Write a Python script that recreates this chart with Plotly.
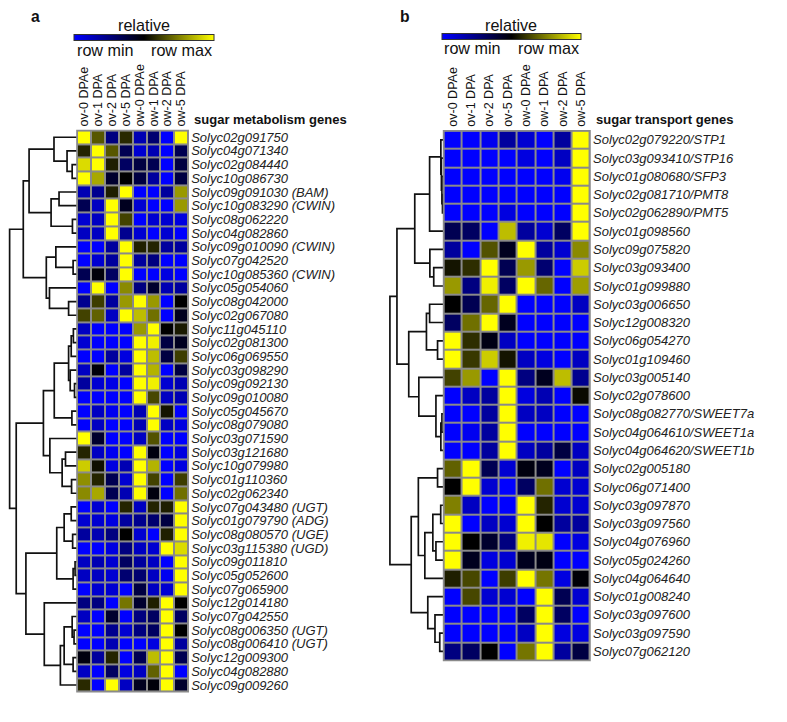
import plotly.graph_objects as go

W, H = 787, 722

columns = ['ov-0 DPAe', 'ov-1 DPA', 'ov-2 DPA', 'ov-5 DPA',
           'ow-0 DPAe', 'ow-1 DPA', 'ow-2 DPA', 'ow-5 DPA']

genes_a = ['Solyc02g091750', 'Solyc04g071340', 'Solyc02g084440', 'Solyc10g086730',
           'Solyc09g091030 (BAM)', 'Solyc10g083290 (CWIN)', 'Solyc08g062220', 'Solyc04g082860',
           'Solyc09g010090 (CWIN)', 'Solyc07g042520', 'Solyc10g085360 (CWIN)', 'Solyc05g054060',
           'Solyc08g042000', 'Solyc02g067080', 'Solyc11g045110', 'Solyc02g081300',
           'Solyc06g069550', 'Solyc03g098290', 'Solyc09g092130', 'Solyc09g010080',
           'Solyc05g045670', 'Solyc08g079080', 'Solyc03g071590', 'Solyc03g121680',
           'Solyc10g079980', 'Solyc01g110360', 'Solyc02g062340', 'Solyc07g043480 (UGT)',
           'Solyc01g079790 (ADG)', 'Solyc08g080570 (UGE)', 'Solyc03g115380 (UGD)', 'Solyc09g011810',
           'Solyc05g052600', 'Solyc07g065900', 'Solyc12g014180', 'Solyc07g042550',
           'Solyc08g006350 (UGT)', 'Solyc08g006410 (UGT)', 'Solyc12g009300', 'Solyc04g082880',
           'Solyc09g009260']

values_a = [
    [1.00, 0.67, 0.25, 0.58, 0.15, 0.28, 0.00, 1.00],
    [0.57, 1.00, 0.67, 0.34, 0.09, 0.15, 0.00, 0.34],
    [0.93, 1.00, 0.56, 0.31, 0.37, 0.34, 0.00, 0.37],
    [1.00, 0.83, 0.41, 0.50, 0.37, 0.19, 0.00, 0.37],
    [0.15, 0.22, 0.56, 1.00, 0.00, 0.00, 0.19, 0.80],
    [0.34, 0.12, 1.00, 0.44, 0.09, 0.00, 0.00, 0.80],
    [0.09, 0.12, 1.00, 0.63, 0.00, 0.09, 0.09, 0.06],
    [0.12, 0.12, 1.00, 0.22, 0.09, 0.00, 0.09, 0.00],
    [0.00, 0.00, 0.19, 1.00, 0.56, 0.57, 0.19, 0.19],
    [0.00, 0.09, 0.19, 1.00, 0.19, 0.25, 0.00, 0.00],
    [0.34, 0.48, 0.31, 1.00, 0.00, 0.00, 0.06, 0.00],
    [0.00, 1.00, 0.00, 0.77, 0.25, 0.41, 0.15, 0.19],
    [0.22, 0.62, 0.19, 0.80, 1.00, 0.80, 0.00, 0.50],
    [0.63, 0.69, 0.12, 1.00, 0.87, 0.72, 0.00, 0.44],
    [0.12, 0.00, 0.00, 0.00, 0.80, 1.00, 0.50, 0.55],
    [0.09, 0.00, 0.00, 0.00, 1.00, 0.97, 0.37, 0.44],
    [0.00, 0.00, 0.19, 0.06, 1.00, 0.87, 0.37, 0.62],
    [0.12, 0.48, 0.00, 0.19, 1.00, 0.85, 0.00, 0.37],
    [0.19, 0.09, 0.05, 0.00, 1.00, 0.97, 0.09, 0.15],
    [0.00, 0.00, 0.00, 0.00, 1.00, 0.64, 0.12, 0.15],
    [0.00, 0.12, 0.03, 0.00, 0.15, 1.00, 0.54, 0.00],
    [0.00, 0.12, 0.00, 0.00, 0.15, 1.00, 0.12, 0.06],
    [1.00, 0.41, 0.00, 0.00, 0.12, 0.66, 0.00, 0.00],
    [0.57, 0.12, 0.03, 0.00, 1.00, 0.47, 0.00, 0.06],
    [0.90, 0.53, 0.06, 0.15, 1.00, 0.85, 0.00, 0.06],
    [0.78, 0.57, 0.34, 0.09, 1.00, 0.63, 0.00, 0.62],
    [0.77, 0.83, 0.34, 0.15, 1.00, 0.47, 0.00, 0.72],
    [0.00, 0.09, 0.00, 0.57, 0.12, 0.57, 0.56, 1.00],
    [0.09, 0.09, 0.06, 0.19, 0.22, 0.28, 0.37, 1.00],
    [0.19, 0.15, 0.25, 0.50, 0.09, 0.00, 0.56, 1.00],
    [0.00, 0.00, 0.06, 0.25, 0.12, 0.09, 1.00, 0.93],
    [0.12, 0.15, 0.09, 0.31, 0.19, 0.12, 0.00, 1.00],
    [0.12, 0.12, 0.09, 0.28, 0.28, 0.12, 0.03, 1.00],
    [0.00, 0.09, 0.09, 0.00, 0.37, 0.12, 0.09, 1.00],
    [0.25, 0.25, 0.00, 0.73, 0.41, 0.56, 1.00, 0.50],
    [0.12, 0.00, 0.41, 0.00, 0.25, 0.31, 1.00, 0.31],
    [0.00, 0.00, 0.22, 0.09, 0.25, 0.31, 1.00, 0.50],
    [0.00, 0.00, 0.15, 0.00, 0.00, 0.06, 1.00, 0.19],
    [0.47, 0.19, 0.57, 0.00, 0.34, 0.87, 1.00, 0.34],
    [0.12, 0.00, 0.31, 0.06, 0.12, 0.69, 1.00, 0.00],
    [0.58, 0.00, 1.00, 0.12, 0.44, 0.48, 1.00, 0.41],
]

genes_b = ['Solyc02g079220/STP1', 'Solyc03g093410/STP16', 'Solyc01g080680/SFP3',
           'Solyc02g081710/PMT8', 'Solyc02g062890/PMT5', 'Solyc01g098560',
           'Solyc09g075820', 'Solyc03g093400', 'Solyc01g099880', 'Solyc03g006650',
           'Solyc12g008320', 'Solyc06g054270', 'Solyc01g109460', 'Solyc03g005140',
           'Solyc02g078600', 'Solyc08g082770/SWEET7a', 'Solyc04g064610/SWEET1a',
           'Solyc04g064620/SWEET1b', 'Solyc02g005180', 'Solyc06g071400',
           'Solyc03g097870', 'Solyc03g097560', 'Solyc04g076960', 'Solyc05g024260',
           'Solyc04g064640', 'Solyc01g008240', 'Solyc03g097600', 'Solyc03g097590',
           'Solyc07g062120']

values_b = [
    [0.00, 0.00, 0.03, 0.19, 0.09, 0.00, 0.19, 1.00],
    [0.00, 0.00, 0.00, 0.00, 0.06, 0.00, 0.12, 1.00],
    [0.00, 0.00, 0.00, 0.00, 0.00, 0.00, 0.03, 1.00],
    [0.00, 0.00, 0.00, 0.00, 0.00, 0.00, 0.00, 1.00],
    [0.00, 0.00, 0.00, 0.06, 0.00, 0.00, 0.00, 1.00],
    [0.34, 0.31, 0.00, 0.87, 0.19, 0.09, 0.31, 1.00],
    [0.19, 0.00, 0.66, 0.44, 1.00, 0.19, 0.09, 0.77],
    [0.54, 0.59, 1.00, 0.34, 0.80, 0.28, 0.00, 0.90],
    [0.80, 0.25, 0.97, 0.31, 1.00, 0.70, 0.00, 0.81],
    [0.50, 0.34, 0.70, 1.00, 0.00, 0.00, 0.00, 0.12],
    [0.31, 0.72, 1.00, 0.44, 0.00, 0.00, 0.00, 0.00],
    [1.00, 0.59, 0.46, 0.12, 0.00, 0.00, 0.00, 0.00],
    [1.00, 0.61, 0.90, 0.54, 0.12, 0.06, 0.00, 0.12],
    [0.63, 0.80, 0.00, 1.00, 0.25, 0.44, 0.87, 0.22],
    [0.00, 0.12, 0.19, 1.00, 0.06, 0.15, 0.00, 0.52],
    [0.00, 0.00, 0.19, 1.00, 0.12, 0.12, 0.00, 0.00],
    [0.00, 0.03, 0.19, 1.00, 0.00, 0.00, 0.00, 0.00],
    [0.00, 0.00, 0.19, 1.00, 0.12, 0.19, 0.37, 0.12],
    [0.69, 1.00, 0.34, 0.09, 0.47, 0.44, 0.00, 0.12],
    [0.50, 1.00, 0.09, 0.00, 0.31, 0.72, 0.09, 0.09],
    [0.75, 0.12, 0.00, 0.00, 1.00, 0.57, 0.09, 0.09],
    [1.00, 0.00, 0.12, 0.09, 1.00, 0.50, 0.19, 0.19],
    [1.00, 0.50, 0.41, 0.25, 0.97, 0.95, 0.00, 0.06],
    [1.00, 0.44, 0.06, 0.09, 0.44, 0.46, 0.00, 0.00],
    [0.56, 0.64, 0.00, 0.62, 1.00, 0.73, 0.06, 0.49],
    [0.00, 0.64, 0.09, 0.09, 0.00, 1.00, 0.34, 0.09],
    [0.00, 0.00, 0.00, 0.00, 0.31, 1.00, 0.31, 0.00],
    [0.00, 0.00, 0.00, 0.00, 0.12, 1.00, 0.06, 0.06],
    [0.25, 0.31, 0.50, 0.00, 0.73, 1.00, 0.19, 0.37],
]

# Row dendrograms: [left, right, merge height]; leaves are row indices
tree_a = [
    [[[0, [1, [2, 3, 0.071], 0.147], 0.341],
      [[4, 5, 0.266], [6, 7, 0.067], 0.384], 0.711],
     [[8, [9, 10, 0.057], 0.313],
      [11, [12, 13, 0.124], 0.408], 0.455], 0.797],
    [[[[[[14, 15, 0.053], 16, 0.085], [17, [18, 19, 0.036], 0.10], 0.124],
        [20, 21, 0.075], 0.337],
       [22, [[23, 24, 0.17], [25, 26, 0.08], 0.22], 0.402], 0.498],
      [[[[27, 28, 0.085], [29, 30, 0.064], 0.19],
        [[31, 32, 0.028], 33, 0.057], 0.30],
       [34, [[[35, [36, 37, 0.043], 0.071], [38, 39, 0.057], 0.19], 40, 0.246], 0.485],
       0.758], 0.902],
    1.0]

tree_b = [
    [[[[0, [1, [2, [3, 4, 0.02], 0.03], 0.04], 0.05], 5, 0.26],
      [6, [7, 8, 0.183], 0.255], 0.537],
     [[[9, 10, 0.26], [11, 12, 0.112], 0.319],
      [13, [14, [[15, 16, 0.03], 17, 0.05], 0.142], 0.461], 0.649], 0.869],
    [[[18, 19, 0.112],
      [[[20, 21, 0.053], [22, 23, 0.142], 0.20], 24, 0.349], 0.47],
     [25, [26, [27, 28, 0.071], 0.16], 0.294], 0.603],
    1.0]

colorscale = [[0.0, 'rgb(0,0,255)'], [0.5, 'rgb(0,0,0)'], [1.0, 'rgb(255,255,0)']]
FONT = 'Liberation Sans, Arial, sans-serif'
GRID = '#8a8a8a'
S = 0.951  # overall scale of the layout


def dendro_xy(tree):
    xs, ys = [], []

    def walk(node):
        if isinstance(node, int):
            return float(node), 0.0
        left, right, h = node
        y1, h1 = walk(left)
        y2, h2 = walk(right)
        xs.extend([h1, h, h, h2, None])
        ys.extend([y1, y1, y2, y2, None])
        return (y1 + y2) / 2.0, h

    walk(tree)
    return xs, ys


def px(xp):
    return S * xp / W


def py(yp):
    return 1 - S * yp / H


# geometry (unscaled layout pixels)
A_X0, A_X1, A_Y0, A_Y1 = 72.5, 189.5, 128.0, 720.0
B_X0, B_X1, B_Y0, B_Y1 = 458.0, 612.0, 128.3, 687.0
A_ROOT, B_ROOT = 1.7, 401.6

fig = go.Figure()

cols_idx = list(range(len(columns)))

cb_common = dict(orientation='h', lenmode='pixels', thicknessmode='pixels',
                 thickness=6 * S, xanchor='center', yanchor='middle', xpad=0, ypad=0,
                 outlinewidth=1, outlinecolor='#333333', showticklabels=False, ticks='')

fig.add_trace(go.Heatmap(
    z=values_a, x=cols_idx, y=list(range(len(genes_a))),
    colorscale=colorscale, zmin=0, zmax=1, xgap=2, ygap=2,
    xaxis='x', yaxis='y', hoverinfo='skip',
    colorbar=dict(len=147 * S, x=px(143.5), y=py(31), **cb_common)))

fig.add_trace(go.Heatmap(
    z=values_b, x=cols_idx, y=list(range(len(genes_b))),
    colorscale=colorscale, zmin=0, zmax=1, xgap=2, ygap=2,
    xaxis='x2', yaxis='y2', hoverinfo='skip',
    colorbar=dict(len=146 * S, x=px(529), y=py(30), **cb_common)))

dxa, dya = dendro_xy(tree_a)
fig.add_trace(go.Scatter(x=dxa, y=dya, mode='lines', xaxis='x3', yaxis='y',
                         line=dict(color='#111111', width=1.7), hoverinfo='skip',
                         showlegend=False, cliponaxis=False))
dxb, dyb = dendro_xy(tree_b)
fig.add_trace(go.Scatter(x=dxb, y=dyb, mode='lines', xaxis='x4', yaxis='y2',
                         line=dict(color='#111111', width=1.7), hoverinfo='skip',
                         showlegend=False, cliponaxis=False))

col_axis = dict(side='top', tickmode='array', tickvals=cols_idx, ticktext=columns,
                tickangle=-90, tickfont=dict(family=FONT, size=12.5, color='#111111'),
                ticks='', ticklabelstandoff=3, showgrid=False, zeroline=False,
                showline=False, range=[-0.5, 7.5], fixedrange=True)
row_font = dict(family=FONT, size=13, color='#222222', style='italic')

wa = (A_X0 - A_ROOT)
wb = (B_X0 - B_ROOT)

fig.update_layout(
    width=W, height=H, margin=dict(l=0, r=0, t=0, b=0),
    paper_bgcolor='white', plot_bgcolor='white', showlegend=False,
    font=dict(family=FONT, color='#111111'),
    xaxis=dict(domain=[px(A_X0), px(A_X1)], anchor='y', **col_axis),
    yaxis=dict(domain=[py(A_Y1), py(A_Y0)], anchor='x', side='right',
               range=[len(genes_a) - 0.5, -0.5], tickmode='array',
               tickvals=list(range(len(genes_a))), ticktext=genes_a,
               tickfont=row_font, ticks='', ticklabelstandoff=2,
               showgrid=False, zeroline=False, showline=False),
    xaxis2=dict(domain=[px(B_X0), px(B_X1)], anchor='y2', **col_axis),
    yaxis2=dict(domain=[py(B_Y1), py(B_Y0)], anchor='x2', side='right',
                range=[len(genes_b) - 0.5, -0.5], tickmode='array',
                tickvals=list(range(len(genes_b))), ticktext=genes_b,
                tickfont=row_font, ticks='', ticklabelstandoff=2,
                showgrid=False, zeroline=False, showline=False),
    xaxis3=dict(domain=[0, px(A_X0)], anchor='y', range=[A_X0 / wa, 0], visible=False),
    xaxis4=dict(domain=[px(B_ROOT - 1.6), px(B_X0)], anchor='y2',
                range=[(B_X0 - B_ROOT + 1.6) / wb, 0], visible=False),
)

# grey grid background and border behind each heatmap
for xr, yr in (('x', 'y'), ('x2', 'y2')):
    fig.add_shape(type='rect', xref=f'{xr} domain', yref=f'{yr} domain',
                  x0=0, x1=1, y0=0, y1=1, fillcolor=GRID, line=dict(width=0), layer='below')
    fig.add_shape(type='rect', xref=f'{xr} domain', yref=f'{yr} domain',
                  x0=0, x1=1, y0=0, y1=1, fillcolor='rgba(0,0,0,0)',
                  line=dict(color=GRID, width=1.5), layer='above')


def ann(text, xp, yp, size, xanchor='left', bold=False):
    fig.add_annotation(text=f'<b>{text}</b>' if bold else text, x=px(xp), y=py(yp),
                       xref='paper', yref='paper', xanchor=xanchor, yanchor='middle',
                       showarrow=False, font=dict(family=FONT, size=size * S, color='#111111'))


ann('a', 22, 7.5, 16.5, bold=True)
ann('b', 410, 7.5, 16.5, bold=True)
ann('relative', 143.5, 17, 17, xanchor='center')
ann('relative', 529, 17, 17, xanchor='center')
ann('row min', 70, 43, 17)
ann('row max', 217, 43, 17, xanchor='right')
ann('row min', 456, 41.5, 17)
ann('row max', 602, 41.5, 17, xanchor='right')
ann('sugar metabolism genes', 193, 117, 13.7, bold=True)
ann('sugar transport genes', 616, 117, 13.7, bold=True)

fig.write_html('out.html')
